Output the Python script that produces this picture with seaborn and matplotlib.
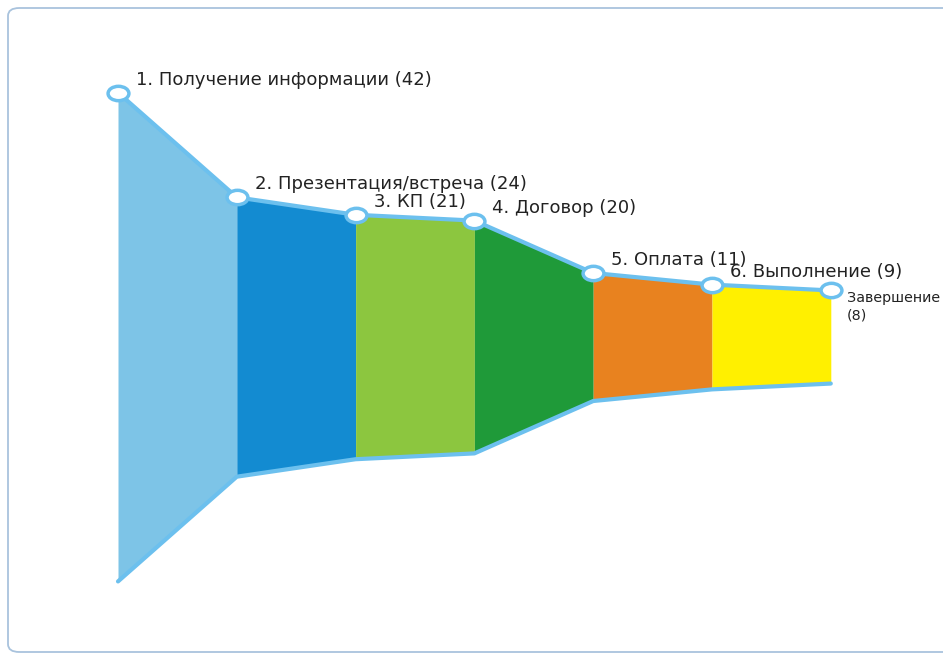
import numpy as np
import pandas as pd
import seaborn as sns
import matplotlib.pyplot as plt
from matplotlib.path import Path
from matplotlib.transforms import Affine2D
from matplotlib.patches import FancyBboxPatch

# данные воронки продаж
stages = ['1. Получение информации', '2. Презентация/встреча', '3. КП',
          '4. Договор', '5. Оплата', '6. Выполнение', 'Завершение']
values = [42, 24, 21, 20, 11, 9, 8]
seg_colors = ['#7dc4e7', '#138bd1', '#8cc63f', '#1f9a39', '#e8821f', '#fff000']
line_color = '#6cc0ee'

sns.set_style('white')
plt.rcParams['font.family'] = ['DejaVu Sans']

df = pd.DataFrame({'step': np.arange(len(values)), 'top': values,
                   'bottom': [-v for v in values]})

fig = plt.figure(figsize=(9.43, 6.55), dpi=100)
# рамка
frame = FancyBboxPatch((8 / 943, 3 / 655), 1.2, 644 / 655,
                       boxstyle='round,pad=0,rounding_size=0.012',
                       transform=fig.transFigure, facecolor='none',
                       edgecolor='#a9c3dd', linewidth=1.3, zorder=-1)
fig.patches.append(frame)

ax = fig.add_axes([0, 0, 1, 1])
ax.set_facecolor('none')

# сегменты
for i, c in enumerate(seg_colors):
    xs = df['step'].iloc[i:i + 2]
    ax.fill_between(xs, df['bottom'].iloc[i:i + 2], df['top'].iloc[i:i + 2],
                    color=c, linewidth=0, zorder=1)

# вытянутый маркер
ell = Path.unit_circle().transformed(Affine2D().scale(1.45, 1.0))
sns.lineplot(data=df, x='step', y='bottom', ax=ax, color=line_color,
             linewidth=3, zorder=2)
sns.lineplot(data=df, x='step', y='top', ax=ax, color=line_color,
             linewidth=3, marker=ell, markersize=15, markerfacecolor='white',
             markeredgecolor=line_color, markeredgewidth=2.5, zorder=3)

for i, (s, v) in enumerate(zip(stages, values)):
    if i == len(stages) - 1:
        ax.annotate(f'{s}\n({v})', (i, v), xytext=(16, -1),
                    textcoords='offset pixels', ha='left', va='top',
                    fontsize=10.3, color='#222222', linespacing=1.3, zorder=4)
    else:
        ax.annotate(f'{s} ({v})', (i, v), xytext=(18, 13),
                    textcoords='offset pixels', ha='left', va='center',
                    fontsize=13, color='#222222', zorder=4)

px_x = 118.8
ax.set_xlim(-118 / px_x, (943 - 118) / px_x)
px_y = 5.82
ax.set_ylim(-(655 - 337) / px_y, 337 / px_y)
ax.axis('off')

fig.savefig('out.png', dpi=100)
